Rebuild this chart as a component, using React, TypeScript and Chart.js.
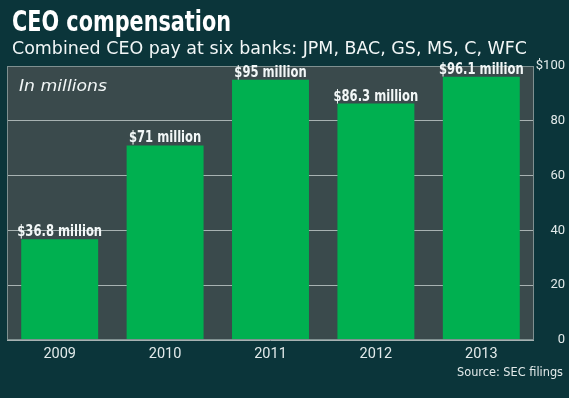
import React, { useEffect, useRef } from 'react';
import { Chart, registerables } from 'chart.js';

Chart.register(...registerables);

// ---- data ----
const categories = ['2009', '2010', '2011', '2012', '2013'];
const payMillions = [36.8, 71, 95, 86.3, 96.1];
const valueLabels = ['$36.8 million', '$71 million', '$95 million', '$86.3 million', '$96.1 million'];
const yTickValues = [0, 20, 40, 60, 80, 100];
const yTickLabels = ['0', '20', '40', '60', '80', '$100'];

const titleText = 'CEO compensation';
const subtitleText = 'Combined CEO pay at six banks: JPM, BAC, GS, MS, C, WFC';
const unitNote = 'In millions';
const sourceText = 'Source: SEC filings';

// ---- styles ----
const BG = '#0b353a';
const PLOT_BG = '#3a4a4c';
const GREEN = '#00b050';
const GRID = '#a7b2b2';
const FRAME = '#7f9090';
const TEXT = '#f2f7f7';
const TICK = '#e2eaea';
const NARROW = '"Liberation Sans Narrow", "Arial Narrow", "DejaVu Sans Condensed", sans-serif';
const TICKFONT = 'Roboto, "Liberation Sans", sans-serif';
const SANS = '"DejaVu Sans", Verdana, sans-serif';

function drawFit(ctx: CanvasRenderingContext2D, text: string, font: string, x: number, y: number, target: number, align: 'left' | 'right') {
  ctx.save();
  ctx.font = font;
  ctx.textBaseline = 'alphabetic';
  ctx.textAlign = 'left';
  const w = ctx.measureText(text).width;
  const s = target / w;
  const x0 = align === 'left' ? x : x - target;
  ctx.translate(x0, y);
  ctx.scale(s, 1);
  ctx.fillText(text, 0, 0);
  ctx.restore();
}

const decor = {
  id: 'decor',
  beforeDraw(chart: any) {
    const { ctx, chartArea: a, width, height } = chart;
    ctx.save();
    ctx.fillStyle = BG;
    ctx.fillRect(0, 0, width, height);
    ctx.fillStyle = PLOT_BG;
    ctx.fillRect(a.left, a.top, a.right - a.left, a.bottom - a.top);
    ctx.restore();
  },
  afterDatasetsDraw(chart: any) {
    const { ctx, chartArea: a } = chart;
    ctx.save();
    ctx.strokeStyle = FRAME;
    ctx.lineWidth = 1;
    ctx.strokeRect(a.left + 0.5, a.top + 0.5, a.right - a.left - 1, a.bottom - a.top - 1);
    // value labels
    const meta = chart.getDatasetMeta(0);
    ctx.fillStyle = TEXT;
    ctx.font = `bold 16.5px ${NARROW}`;
    ctx.textAlign = 'center';
    ctx.textBaseline = 'alphabetic';
    meta.data.forEach((bar: any, i: number) => {
      ctx.save();
      ctx.translate(bar.x, bar.y - 3);
      ctx.scale(0.78, 1);
      ctx.fillText(valueLabels[i], 0, 0);
      ctx.restore();
    });
    ctx.restore();
    ctx.save();
    ctx.fillStyle = TEXT;
    drawFit(ctx, unitNote, `italic 16px ${SANS}`, a.left + 12, 91, 88, 'left');
    ctx.restore();
  },
  afterDraw(chart: any) {
    const { ctx } = chart;
    ctx.save();
    ctx.fillStyle = '#ffffff';
    drawFit(ctx, titleText, `bold 28px ${NARROW}`, 12, 31, 219, 'left');
    ctx.fillStyle = TEXT;
    drawFit(ctx, subtitleText, `17.5px ${SANS}`, 12, 54, 515, 'left');
    ctx.fillStyle = TICK;
    drawFit(ctx, sourceText, `11.5px ${SANS}`, 563, 376, 106, 'right');
    ctx.restore();
  },
};

export default function App() {
  const ref = useRef<HTMLCanvasElement | null>(null);
  useEffect(() => {
    if (!ref.current) return;
    const chart = new Chart(ref.current, {
      type: 'bar',
      data: {
        labels: categories,
        datasets: [
          {
            data: payMillions,
            backgroundColor: GREEN,
            borderWidth: 0,
            barPercentage: 0.73,
            categoryPercentage: 1,
          },
        ],
      },
      options: {
        responsive: false,
        maintainAspectRatio: false,
        animation: false,
        layout: { padding: { left: 7, top: 66, right: 4, bottom: 0 } },
        plugins: {
          legend: { display: false },
          tooltip: { enabled: false },
          title: { display: false },
        },
        scales: {
          x: {
            grid: { display: false, drawTicks: false },
            border: { display: false },
            ticks: { color: TICK, font: { family: TICKFONT, size: 14.5 }, padding: 6 },
            afterFit: (s: any) => {
              s.height = 58;
            },
          },
          y: {
            position: 'right',
            min: 0,
            max: 100,
            grid: { color: GRID, lineWidth: 1, drawTicks: false },
            border: { display: false },
            ticks: {
              stepSize: 20,
              color: TICK,
              font: { family: TICKFONT, size: 13 },
              padding: 0,
              crossAlign: 'far',
              callback: (v: any) => {
                const i = yTickValues.indexOf(Number(v));
                return i >= 0 ? yTickLabels[i] : String(v);
              },
            },
            afterFit: (s: any) => {
              s.width = 31;
            },
          },
        },
      },
      plugins: [decor],
    } as any);
    return () => chart.destroy();
  }, []);
  return (
    <div style={{ position: 'fixed', left: 0, top: 0, width: 569, height: 398, background: BG }}>
      <canvas ref={ref} width={569} height={398} style={{ display: 'block' }} />
    </div>
  );
}
